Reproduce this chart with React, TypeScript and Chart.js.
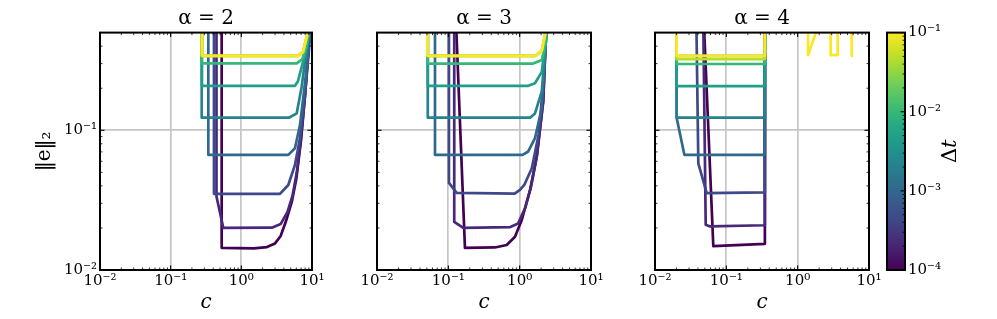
import React, { useEffect, useRef } from 'react';
import { Chart, registerables } from 'chart.js';

Chart.register(...registerables);

// ---------- text ----------
const panelTitles = ['α = 2', 'α = 3', 'α = 4'];
const xAxisLabel = 'c';
const yAxisLabel = '‖e‖₂';
const colorbarLabelMain = 'Δ';
const colorbarLabelItalic = 't';

// ---------- series parameters (time step of each curve) ----------
const dtValues = [1e-4, 2.15e-4, 4.64e-4, 1e-3, 2.15e-3, 4.64e-3, 1e-2, 2.15e-2, 4.64e-2, 1e-1];

// ---------- ticks ----------
const xTickValues = [0.01, 0.1, 1, 10];
const xTickLabels = ['10⁻²', '10⁻¹', '10⁰', '10¹'];
const xMinorTicks = [0.02, 0.03, 0.04, 0.05, 0.06, 0.07, 0.08, 0.09, 0.2, 0.3, 0.4, 0.5, 0.6, 0.7, 0.8, 0.9, 2, 3, 4, 5, 6, 7, 8, 9];
const yTickValues = [0.01, 0.1];
const yTickLabels = ['10⁻²', '10⁻¹'];
const yMinorTicks = [0.02, 0.03, 0.04, 0.05, 0.06, 0.07, 0.08, 0.09, 0.2, 0.3, 0.4];
const cbTickValues = [1e-4, 1e-3, 1e-2, 1e-1];
const cbTickLabels = ['10⁻⁴', '10⁻³', '10⁻²', '10⁻¹'];
const cbMinorTicks = [2e-4, 3e-4, 4e-4, 5e-4, 6e-4, 7e-4, 8e-4, 9e-4, 2e-3, 3e-3, 4e-3, 5e-3, 6e-3, 7e-3, 8e-3, 9e-3, 2e-2, 3e-2, 4e-2, 5e-2, 6e-2, 7e-2, 8e-2, 9e-2];

// ---------- data: alpha = 2 ----------
const alpha2C = [
  [0.527, 0.527, 1.5, 2.3, 3.0, 3.6, 4.3, 5.2, 6.0, 7.0, 7.9, 8.8, 9.6],
  [0.445, 0.445, 0.556, 2.7, 3.6, 4.5, 5.3, 6.1, 7.0, 7.9, 8.8, 9.6],
  [0.41, 0.41, 3.52, 4.62, 5.74, 6.76, 7.96, 9.1, 10],
  [0.341, 0.341, 4.62, 5.74, 6.76, 7.96, 9.4, 10],
  [0.275, 0.275, 4.72, 6.07, 7.14, 8.4, 10],
  [0.277, 0.277, 5.74, 6.3, 8.4, 10],
  [0.275, 0.275, 6.1, 7.3, 8.4, 10],
  [0.277, 0.277, 6.3, 7.46, 10],
  [0.277, 0.277, 6.3, 7.46, 10],
  [0.277, 0.277, 6.3, 7.46, 10],
];
const alpha2E = [
  [10, 0.0144, 0.0143, 0.0146, 0.0155, 0.0175, 0.0225, 0.031, 0.045, 0.085, 0.17, 0.35, 0.7],
  [10, 0.0336, 0.02, 0.0201, 0.0213, 0.026, 0.034, 0.05, 0.09, 0.17, 0.35, 0.7],
  [10, 0.0351, 0.0351, 0.0406, 0.0565, 0.0877, 0.179, 0.386, 0.8],
  [10, 0.0667, 0.0667, 0.0744, 0.109, 0.217, 0.5, 0.7],
  [10, 0.123, 0.123, 0.132, 0.205, 0.386, 0.75],
  [10, 0.208, 0.208, 0.223, 0.386, 0.75],
  [10, 0.301, 0.301, 0.323, 0.41, 0.75],
  [10, 0.341, 0.341, 0.364, 0.66],
  [10, 0.341, 0.341, 0.364, 0.66],
  [10, 0.341, 0.341, 0.364, 0.66],
];

// ---------- data: alpha = 3 ----------
const alpha3C = [
  [0.128, 0.171, 0.45, 0.658, 0.86, 1.07, 1.4, 1.73, 2.14, 2.34, 2.34],
  [0.121, 0.121, 0.162, 0.74, 0.95, 1.2, 1.45, 1.75, 2.14, 2.34, 2.34],
  [0.102, 0.102, 0.131, 0.85, 1.01, 1.16, 1.48, 1.84, 2.14, 2.34, 2.34],
  [0.065, 0.065, 1.1, 1.32, 1.64, 2.04, 2.34, 2.34],
  [0.0515, 0.0515, 1.4, 1.64, 2.04, 2.34, 2.34],
  [0.0515, 0.0515, 1.32, 1.64, 2.04, 2.34, 2.34],
  [0.0515, 0.0515, 1.55, 2.04, 2.34, 2.34],
  [0.051, 0.051, 1.68, 2.04, 2.34, 2.34],
  [0.051, 0.051, 1.68, 2.04, 2.34, 2.34],
  [0.051, 0.051, 1.68, 2.04, 2.34, 2.34],
];
const alpha3E = [
  [0.6, 0.0144, 0.0145, 0.0151, 0.0173, 0.0228, 0.0373, 0.0645, 0.164, 0.5, 10],
  [10, 0.0221, 0.02, 0.0203, 0.0215, 0.028, 0.04, 0.066, 0.16, 0.5, 10],
  [10, 0.042, 0.0356, 0.0352, 0.0375, 0.0406, 0.0535, 0.0925, 0.211, 0.5, 10],
  [10, 0.0667, 0.0667, 0.0705, 0.0877, 0.144, 0.45, 10],
  [10, 0.123, 0.123, 0.132, 0.189, 0.45, 10],
  [10, 0.208, 0.208, 0.217, 0.262, 0.45, 10],
  [10, 0.3, 0.3, 0.318, 0.43, 10],
  [10, 0.341, 0.341, 0.37, 0.52, 10],
  [10, 0.341, 0.341, 0.37, 0.52, 10],
  [10, 0.341, 0.341, 0.37, 0.52, 10],
];

// ---------- data: alpha = 4 ----------
const alpha4C = [
  [0.0483, 0.0657, 0.347, 0.347],
  [0.0475, 0.0514, 0.059, 0.347, 0.347],
  [0.038, 0.0405, 0.0531, 0.347, 0.347],
  [0.0201, 0.0201, 0.0258, 0.347, 0.347],
  [0.0201, 0.0201, 0.347, 0.347],
  [0.0201, 0.0201, 0.347, 0.347],
  [0.0201, 0.0201, 0.347, 0.347],
  [0.0201, 0.0201, 0.347, 0.347],
  [0.0201, 0.0201, 0.347, 0.347],
  [0.0201, 0.0201, 0.347, 0.347, 1.37, 1.4, 1.85, 2.9, 2.9, 3.64, 3.64, 5.65, 5.7, 5.75],
];
const alpha4E = [
  [0.6, 0.0148, 0.0154, 10],
  [0.6, 0.0211, 0.0205, 0.0209, 10],
  [0.6, 0.058, 0.0355, 0.0359, 10],
  [10, 0.123, 0.0667, 0.0667, 10],
  [10, 0.123, 0.123, 10],
  [10, 0.207, 0.207, 10],
  [10, 0.298, 0.298, 10],
  [10, 0.341, 0.341, 10],
  [10, 0.323, 0.323, 10],
  [10, 0.341, 0.341, 10, 10, 0.345, 0.52, 10, 0.345, 0.345, 10, 10, 0.34, 10],
];

const panelC = [alpha2C, alpha3C, alpha4C];
const panelE = [alpha2E, alpha3E, alpha4E];

// ---------- styles ----------
const lineColors = ['#440154', '#482878', '#3e4989', '#31688e', '#26828e', '#1f9e89', '#35b779', '#6ece58', '#b5de2b', '#fde725'];
const viridisStops = ['#440154', '#482475', '#414487', '#355f8d', '#2a788e', '#21918c', '#22a884', '#44bf70', '#7ad151', '#bddf26', '#fde725'];
const SERIF = "'DejaVu Serif', serif";
const GRID = '#c6c6c6';
const W = 997;
const H = 319;
const TITLE_SIZE = 20;
const TITLE_PAD = { top: 7, bottom: 1.6 };
const panelLeft = [100, 377, 655];
const panelRight = [312, 591, 869];
const cbLeft = 887;
const cbRight = 905;
const MAJOR = 4.5;
const MINOR = 2.5;
const TICK_FONT = 15;

function seg(ctx: CanvasRenderingContext2D, x1: number, y1: number, x2: number, y2: number) {
  ctx.beginPath();
  ctx.moveTo(x1, y1);
  ctx.lineTo(x2, y2);
  ctx.stroke();
}

const panelFrame = {
  id: 'panelFrame',
  afterDraw(chart: any) {
    const { ctx, chartArea: a } = chart;
    const xs = chart.scales.x;
    const ys = chart.scales.y;
    ctx.save();
    ctx.strokeStyle = '#000';
    ctx.lineWidth = 0.8;
    for (const v of xMinorTicks) {
      const p = xs.getPixelForValue(v);
      seg(ctx, p, a.bottom, p, a.bottom - MINOR);
      seg(ctx, p, a.top, p, a.top + MINOR);
    }
    for (const v of yMinorTicks) {
      const p = ys.getPixelForValue(v);
      seg(ctx, a.left, p, a.left + MINOR, p);
      seg(ctx, a.right, p, a.right - MINOR, p);
    }
    ctx.lineWidth = 1.1;
    for (const v of xTickValues) {
      const p = xs.getPixelForValue(v);
      seg(ctx, p, a.bottom, p, a.bottom - MAJOR);
      seg(ctx, p, a.top, p, a.top + MAJOR);
    }
    for (const v of yTickValues) {
      const p = ys.getPixelForValue(v);
      seg(ctx, a.left, p, a.left + MAJOR, p);
      seg(ctx, a.right, p, a.right - MAJOR, p);
    }
    ctx.lineWidth = 2;
    ctx.strokeRect(a.left, a.top, a.right - a.left, a.bottom - a.top);
    ctx.restore();
  },
};

const colorbarPaint = {
  id: 'colorbarPaint',
  beforeDatasetsDraw(chart: any) {
    const { ctx, chartArea: a } = chart;
    const g = ctx.createLinearGradient(0, a.bottom, 0, a.top);
    viridisStops.forEach((c, i) => g.addColorStop(i / (viridisStops.length - 1), c));
    ctx.save();
    ctx.fillStyle = g;
    ctx.fillRect(a.left, a.top, a.right - a.left, a.bottom - a.top);
    ctx.restore();
  },
  afterDraw(chart: any) {
    const { ctx, chartArea: a } = chart;
    const ys = chart.scales.y;
    ctx.save();
    ctx.strokeStyle = '#000';
    ctx.lineWidth = 0.8;
    for (const v of cbMinorTicks) {
      const p = ys.getPixelForValue(v);
      seg(ctx, a.right, p, a.right - MINOR, p);
    }
    ctx.lineWidth = 1.1;
    for (const v of cbTickValues) {
      const p = ys.getPixelForValue(v);
      seg(ctx, a.right, p, a.right - MAJOR, p);
    }
    ctx.lineWidth = 2;
    ctx.strokeRect(a.left, a.top, a.right - a.left, a.bottom - a.top);
    // colorbar label, reading bottom-to-top
    ctx.translate(951, (a.top + a.bottom) / 2);
    ctx.rotate(-Math.PI / 2);
    ctx.fillStyle = '#000';
    ctx.textBaseline = 'middle';
    ctx.font = `21px ${SERIF}`;
    const w1 = ctx.measureText(colorbarLabelMain).width;
    ctx.font = `italic 21px ${SERIF}`;
    const w2 = ctx.measureText(colorbarLabelItalic).width;
    const start = -(w1 + w2) / 2;
    ctx.textAlign = 'left';
    ctx.font = `21px ${SERIF}`;
    ctx.fillText(colorbarLabelMain, start, 0);
    ctx.font = `italic 21px ${SERIF}`;
    ctx.fillText(colorbarLabelItalic, start + w1, 0);
    ctx.restore();
  },
};

function makePanelConfig(i: number): any {
  const cs = panelC[i];
  const es = panelE[i];
  const datasets = cs.map((cArr, k) => ({
    label: `Δt = ${dtValues[k]}`,
    data: cArr.map((c, j) => ({ x: c, y: es[k][j] })),
    showLine: true,
    borderColor: lineColors[k],
    backgroundColor: lineColors[k],
    borderWidth: 2.7,
    borderJoinStyle: 'round',
    borderCapStyle: 'butt',
    pointRadius: 0,
    pointHoverRadius: 0,
    tension: 0,
    clip: 0,
    order: cs.length - 1 - k,
  }));
  const first = i === 0;
  return {
    type: 'scatter',
    data: { datasets },
    options: {
      animation: false,
      responsive: false,
      events: [],
      layout: { padding: { left: first ? 0 : panelLeft[i], right: W - panelRight[i], top: 0, bottom: 0 } },
      plugins: {
        legend: { display: false },
        tooltip: { enabled: false },
        title: {
          display: true,
          text: panelTitles[i],
          color: '#000',
          fullSize: false,
          font: { family: SERIF, size: TITLE_SIZE, weight: 'normal' },
          padding: TITLE_PAD,
        },
      },
      scales: {
        x: {
          type: 'logarithmic',
          position: 'bottom',
          min: 0.01,
          max: 10,
          grid: { color: GRID, lineWidth: 1.7, drawTicks: false },
          border: { display: false },
          ticks: {
            color: '#000',
            font: { family: SERIF, size: TICK_FONT },
            padding: 2,
            maxRotation: 0,
            autoSkip: false,
            callback: (_v: any, idx: number) => xTickLabels[idx],
          },
          title: {
            display: true,
            text: xAxisLabel,
            color: '#000',
            font: { family: SERIF, size: 20, style: 'italic' },
            padding: { top: 0, bottom: 4 },
          },
          afterBuildTicks: (s: any) => {
            s.ticks = xTickValues.map((v) => ({ value: v }));
          },
          afterFit: (s: any) => {
            s.height = H - 270;
          },
        },
        y: {
          type: 'logarithmic',
          position: 'left',
          min: 0.01,
          max: 0.5,
          grid: { color: GRID, lineWidth: 1.7, drawTicks: false },
          border: { display: false },
          ticks: {
            display: first,
            color: '#000',
            font: { family: SERIF, size: TICK_FONT },
            padding: 3,
            autoSkip: false,
            callback: (_v: any, idx: number) => yTickLabels[idx],
          },
          title: {
            display: first,
            text: yAxisLabel,
            color: '#000',
            font: { family: SERIF, size: 20 },
            padding: { top: 33, bottom: 0 },
          },
          afterBuildTicks: (s: any) => {
            s.ticks = yTickValues.map((v) => ({ value: v }));
          },
          afterFit: (s: any) => {
            s.width = first ? panelLeft[0] : 0;
          },
        },
      },
    },
    plugins: [panelFrame],
  };
}

function makeColorbarConfig(): any {
  const axisWidth = 50;
  return {
    type: 'scatter',
    data: { datasets: [] },
    options: {
      animation: false,
      responsive: false,
      events: [],
      layout: {
        padding: {
          left: cbLeft,
          right: W - cbRight - axisWidth,
          top: TITLE_PAD.top + TITLE_SIZE * 1.2 + TITLE_PAD.bottom,
          bottom: H - 270,
        },
      },
      plugins: { legend: { display: false }, tooltip: { enabled: false }, title: { display: false } },
      scales: {
        x: { type: 'linear', display: false, min: 0, max: 1 },
        y: {
          type: 'logarithmic',
          position: 'right',
          min: 1e-4,
          max: 1e-1,
          grid: { display: false, drawTicks: false },
          border: { display: false },
          ticks: {
            color: '#000',
            font: { family: SERIF, size: TICK_FONT },
            padding: 3,
            autoSkip: false,
            callback: (_v: any, idx: number) => cbTickLabels[idx],
          },
          afterBuildTicks: (s: any) => {
            s.ticks = cbTickValues.map((v) => ({ value: v }));
          },
          afterFit: (s: any) => {
            s.width = axisWidth;
          },
        },
      },
    },
    plugins: [colorbarPaint],
  };
}

export default function App() {
  const r0 = useRef<HTMLCanvasElement>(null);
  const r1 = useRef<HTMLCanvasElement>(null);
  const r2 = useRef<HTMLCanvasElement>(null);
  const r3 = useRef<HTMLCanvasElement>(null);
  const refs = [r0, r1, r2, r3];

  useEffect(() => {
    const charts: Chart[] = [];
    [0, 1, 2].forEach((i) => {
      const cv = refs[i].current;
      if (cv) charts.push(new Chart(cv, makePanelConfig(i)));
    });
    if (r3.current) charts.push(new Chart(r3.current, makeColorbarConfig()));
    return () => charts.forEach((c) => c.destroy());
  }, []);

  return (
    <div style={{ position: 'absolute', left: 0, top: 0, width: W, height: H, background: '#fff' }}>
      {refs.map((r, i) => (
        <canvas
          key={i}
          ref={r}
          width={W}
          height={H}
          style={{ position: 'absolute', left: 0, top: 0, width: W, height: H }}
        />
      ))}
    </div>
  );
}
